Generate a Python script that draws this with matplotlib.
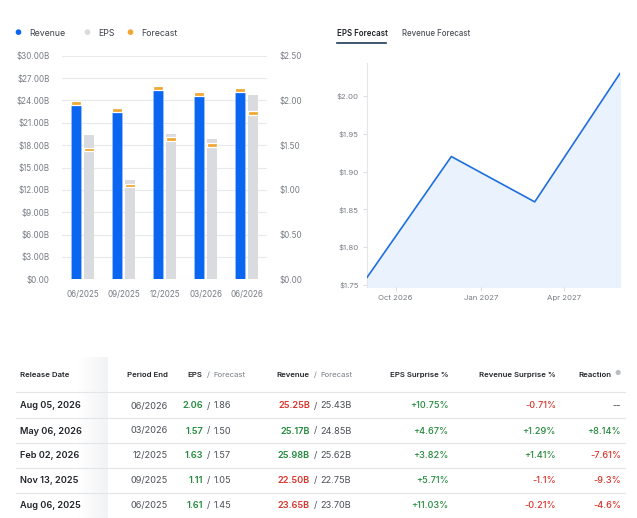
import numpy as np
import matplotlib
matplotlib.use("Agg")
import matplotlib.pyplot as plt
import matplotlib.dates as mdates
from matplotlib.patches import Rectangle
from datetime import datetime

plt.rcParams['font.family'] = ['Inter', 'DejaVu Sans']

#? Datos del gráfico de barras
periodos = ["06/2025", "09/2025", "12/2025", "03/2026", "06/2026"]
ingresos = [23.65, 22.50, 25.98, 25.17, 25.25]
ingresos_prev = [23.70, 22.75, 25.62, 24.85, 25.43]
eps = [1.61, 1.11, 1.63, 1.57, 2.06]
eps_prev = [1.45, 1.05, 1.57, 1.50, 1.86]

#? Datos del pronóstico EPS
fechas_prev = ["2026-08-31", "2026-11-30", "2027-02-28", "2027-05-31"]
eps_futuro = [1.76, 1.92, 1.86, 2.03]

#? Datos de la tabla
fechas_pub = ["Aug 05, 2026", "May 06, 2026", "Feb 02, 2026", "Nov 13, 2025", "Aug 06, 2025"]
fin_periodo = ["06/2026", "03/2026", "12/2025", "09/2025", "06/2025"]
t_eps = ["2.06", "1.57", "1.63", "1.11", "1.61"]
t_eps_prev = ["1.86", "1.50", "1.57", "1.05", "1.45"]
t_ing = ["25.25B", "25.17B", "25.98B", "22.50B", "23.65B"]
t_ing_prev = ["25.43B", "24.85B", "25.62B", "22.75B", "23.70B"]
sorpresa_eps = ["+10.75%", "+4.67%", "+3.82%", "+5.71%", "+11.03%"]
sorpresa_ing = ["-0.71%", "+1.29%", "+1.41%", "-1.1%", "-0.21%"]
reaccion = ["--", "+8.14%", "-7.61%", "-9.3%", "-4.6%"]

AZUL = "#0a66f0"
GRIS = "#d9dbdf"
NARANJA = "#f0a832"
VERDE = "#248a3d"
ROJO = "#d9342b"
TEXTO = "#1f2328"
TEXTO2 = "#4b5058"
EJE = "#777c84"

W, H = 637, 518
fig = plt.figure(figsize=(W / 100, H / 100), dpi=100)


def px(x0, y0, x1, y1):
    # caja en pixeles (arriba-izquierda) -> fracciones de figura
    return [x0 / W, 1 - y1 / H, (x1 - x0) / W, (y1 - y0) / H]


def ft(x, y):
    return x / W, 1 - y / H


def color_valor(s):
    if s.startswith("+"):
        return VERDE
    if s.startswith("-") and s != "--":
        return ROJO
    return TEXTO2


#? Leyenda superior
for xd, col, lab in [(18, AZUL, "Revenue"), (87, GRIS, "EPS"), (130, NARANJA, "Forecast")]:
    fig.text(*ft(xd, 33), "●", color=col, fontsize=5.5, ha="center", va="center")
    fig.text(*ft(xd + 11, 33), lab, color="#3d424a", fontsize=6.3, ha="left", va="center")

#? Barras
ax = fig.add_axes(px(62, 55.7, 267, 279.3))
x = np.arange(len(periodos))
ancho = 0.23
ax.bar(x - 0.16, ingresos, width=ancho, color=AZUL, edgecolor="#9cc2fa", linewidth=0.5, zorder=2)
ax.set_ylim(0, 30)
ax.set_xlim(-0.5, 4.5)
ax.set_yticks(np.arange(0, 31, 3))
ax.set_yticklabels(["$0.00"] + [f"${v:.2f}B" for v in np.arange(3, 31, 3)])
ax.set_xticks(x)
ax.set_xticklabels(periodos)
ax.grid(axis="y", color="#e8e9ec", linewidth=0.8, zorder=0)
ax.tick_params(length=0, labelsize=5.8, colors=EJE, pad=9)
ax.tick_params(axis="x", pad=8)
for s in ax.spines.values():
    s.set_visible(False)

ax2 = ax.twinx()
ax2.bar(x + 0.16, eps, width=ancho, color=GRIS, zorder=2)
ax2.set_ylim(0, 2.5)
ax2.set_yticks(np.arange(0, 2.51, 0.5))
ax2.set_yticklabels([f"${v:.2f}" for v in np.arange(0, 2.51, 0.5)])
ax2.tick_params(length=0, labelsize=5.8, colors=EJE, pad=9)
for s in ax2.spines.values():
    s.set_visible(False)

# marcas de pronóstico
for xi, v in zip(x - 0.16, ingresos_prev):
    ax.add_patch(Rectangle((xi - ancho / 2, v - 0.25), ancho, 0.5, facecolor=NARANJA,
                           edgecolor="white", linewidth=0.9, zorder=3))
for xi, v in zip(x + 0.16, eps_prev):
    ax2.add_patch(Rectangle((xi - ancho / 2, v - 0.021), ancho, 0.042, facecolor=NARANJA,
                            edgecolor="white", linewidth=0.9, zorder=3))

#? Pestañas
fig.text(*ft(337, 33), "EPS Forecast", color=TEXTO, fontsize=5.7, fontweight="semibold", va="center")
fig.text(*ft(402, 33), "Revenue Forecast", color="#4b5058", fontsize=5.7, fontweight="medium", va="center")
fig.add_artist(plt.Line2D([337 / W, 386 / W], [1 - 43 / H, 1 - 43 / H], color="#1d3b57", linewidth=1.2))

#? Línea de pronóstico
axl = fig.add_axes(px(367, 63.3, 620, 286.7))
fechas = [datetime.strptime(f, "%Y-%m-%d") for f in fechas_prev]
axl.plot(fechas, eps_futuro, color="#1f6fe0", linewidth=1.2, zorder=3)
axl.fill_between(fechas, eps_futuro, 1.7, color="#eaf2fd", zorder=1)
axl.set_xlim(fechas[0], fechas[-1])
axl.set_ylim(1.7478, 2.0433)
axl.set_yticks([1.75, 1.80, 1.85, 1.90, 1.95, 2.00])
axl.set_yticklabels(["$1.75", "$1.80", "$1.85", "$1.90", "$1.95", "$2.00"])
axl.set_xticks([datetime(2026, 10, 1), datetime(2027, 1, 1), datetime(2027, 4, 1)])
axl.xaxis.set_major_formatter(mdates.DateFormatter("%b %Y"))
axl.tick_params(length=3, width=0.6, color="#d5d7db", labelsize=5.6, labelcolor=EJE, pad=3)
for s in ["top", "right", "bottom"]:
    axl.spines[s].set_visible(False)
axl.spines["left"].set_color("#e4e5e8")
axl.spines["left"].set_linewidth(0.8)

#? Tabla
# sombra de columna fija
sombra = fig.add_axes(px(78, 357, 108, 518))
grad = np.linspace(0, 1, 50).reshape(1, -1)
sombra.imshow(grad, aspect="auto", cmap=matplotlib.colors.LinearSegmentedColormap.from_list(
    "s", ["#ffffff", "#f2f3f5"]), extent=[0, 1, 0, 1])
sombra.axis("off")

lineas_y = [392.3, 417.7, 442.7, 467.5, 492.5, 517.5]
for yl in lineas_y:
    fig.add_artist(plt.Line2D([16 / W, 625 / W], [1 - yl / H] * 2, color="#e3e5e8", linewidth=0.8))

yh = 375
hs = 5.6
fig.text(*ft(20, yh), "Release Date", fontsize=hs, fontweight="semibold", color=TEXTO, va="center")
fig.text(*ft(168, yh), "Period End", fontsize=hs, fontweight="semibold", color=TEXTO, va="center", ha="right")
fig.text(*ft(202, yh), "EPS", fontsize=hs, fontweight="semibold", color=TEXTO, va="center", ha="right")
fig.text(*ft(208, yh), "/", fontsize=hs, color=EJE, va="center", ha="center")
fig.text(*ft(213.5, yh), "Forecast", fontsize=hs, color=EJE, va="center", ha="left")
fig.text(*ft(309, yh), "Revenue", fontsize=hs, fontweight="semibold", color=TEXTO, va="center", ha="right")
fig.text(*ft(315, yh), "/", fontsize=hs, color=EJE, va="center", ha="center")
fig.text(*ft(320, yh), "Forecast", fontsize=hs, color=EJE, va="center", ha="left")
fig.text(*ft(448.7, yh), "EPS Surprise %", fontsize=hs, fontweight="semibold", color=TEXTO, va="center", ha="right")
fig.text(*ft(556, yh), "Revenue Surprise %", fontsize=hs, fontweight="semibold", color=TEXTO, va="center", ha="right")
fig.text(*ft(611.7, yh), "Reaction", fontsize=hs, fontweight="semibold", color=TEXTO, va="center", ha="right")
fig.text(*ft(618, yh - 2), "●", fontsize=5, color="#b9bcc1", va="center", ha="center")

vs = 6.6
filas_y = [406, 431, 455.5, 480.5, 505.5]
for i, yr in enumerate(filas_y):
    ing_col = VERDE if float(t_ing[i][:-1]) >= float(t_ing_prev[i][:-1]) else ROJO
    eps_col = VERDE if float(t_eps[i]) >= float(t_eps_prev[i]) else ROJO
    fig.text(*ft(20, yr), fechas_pub[i], fontsize=vs, fontweight="semibold", color=TEXTO, va="center")
    fig.text(*ft(168, yr), fin_periodo[i], fontsize=vs, color=TEXTO2, va="center", ha="right")
    fig.text(*ft(203, yr), t_eps[i], fontsize=vs, fontweight="semibold", color=eps_col, va="center", ha="right")
    fig.text(*ft(208.5, yr), "/", fontsize=vs, color=TEXTO2, va="center", ha="center")
    fig.text(*ft(213.5, yr), t_eps_prev[i], fontsize=vs, color=TEXTO2, va="center", ha="left")
    fig.text(*ft(310, yr), t_ing[i], fontsize=vs, fontweight="semibold", color=ing_col, va="center", ha="right")
    fig.text(*ft(315.5, yr), "/", fontsize=vs, color=TEXTO2, va="center", ha="center")
    fig.text(*ft(320.5, yr), t_ing_prev[i], fontsize=vs, color=TEXTO2, va="center", ha="left")
    fig.text(*ft(448.7, yr), sorpresa_eps[i], fontsize=vs, fontweight="medium",
             color=color_valor(sorpresa_eps[i]), va="center", ha="right")
    fig.text(*ft(556, yr), sorpresa_ing[i], fontsize=vs, fontweight="medium",
             color=color_valor(sorpresa_ing[i]), va="center", ha="right")
    fig.text(*ft(621, yr), reaccion[i], fontsize=vs, fontweight="medium",
             color=color_valor(reaccion[i]), va="center", ha="right")

fig.savefig("out.png", dpi=100)
